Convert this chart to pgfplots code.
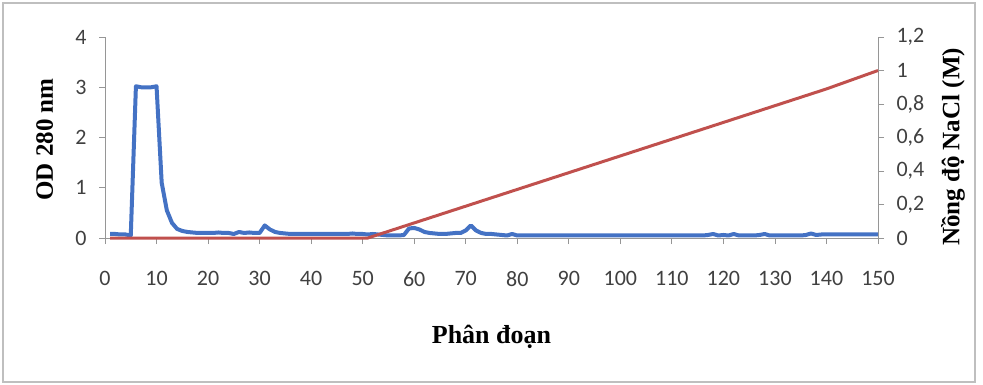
\documentclass[border=0pt]{standalone}
\usepackage{pgfplots}
\pgfplotsset{compat=1.18}
\usepackage{fontspec}
\setmainfont{Carlito}
\newfontfamily\tnr{Liberation Serif}
\definecolor{exblue}{RGB}{68,114,196}
\definecolor{exred}{RGB}{192,80,77}
\definecolor{axgray}{RGB}{150,150,150}
\begin{document}
\begin{tikzpicture}
\useasboundingbox (0,0) rectangle (983pt,384pt);
\draw[color=black!25, line width=1.2pt] (3pt,2pt) rectangle (975pt,381pt);
\pgfplotsset{
  common/.style={
    at={(105pt,146pt)}, anchor=south west,
    scale only axis, width=773pt, height=201pt,
    xmin=0, xmax=150,
    tick align=outside,
    major tick length=6pt,
    every tick/.style={axgray, line width=0.8pt},
    axis line style={axgray, line width=0.8pt},
    tick label style={font=\fontsize{22}{22}\selectfont, black!75},
    /pgf/number format/assume math mode=true,
    clip=false,
  }
}
\begin{axis}[common,
  ymin=0, ymax=4,
  ytick={0,1,2,3,4},
  xtick={0,10,...,150},
  axis y line*=left, axis x line*=bottom,
  yticklabel style={xshift=-9pt},
  xticklabel style={yshift=-24pt},
  xlabel={\fontsize{26}{26}\tnr\bfseries Phân đoạn},
  xlabel style={at={(axis description cs:0.5,-0.49)}, anchor=center},
  ylabel={\fontsize{25}{25}\tnr\bfseries OD 280 nm},
  ylabel style={at={(axis description cs:-0.078,0.49)}, anchor=center, rotate=0},
]
\addplot[exblue, line width=4pt, line join=round] coordinates {
(1,0.08)(2,0.08)(3,0.07)(4,0.07)(5,0.05)(6,3.02)(7,3.0)(8,3.0)(9,3.0)(10,3.02)
(11,1.1)(12,0.55)(13,0.3)(14,0.18)(15,0.14)(16,0.12)(17,0.11)(18,0.1)(19,0.1)(20,0.1)
(21,0.1)(22,0.11)(23,0.1)(24,0.1)(25,0.08)(26,0.12)(27,0.1)(28,0.11)(29,0.1)(30,0.1)
(31,0.25)(32,0.17)(33,0.12)(34,0.1)(35,0.09)(36,0.08)(37,0.08)(38,0.08)(39,0.08)(40,0.08)
(41,0.08)(42,0.08)(43,0.08)(44,0.08)(45,0.08)(46,0.08)(47,0.08)(48,0.09)(49,0.08)(50,0.08)
(51,0.07)(52,0.08)(53,0.07)(54,0.06)(55,0.05)(56,0.05)(57,0.05)(58,0.06)(59,0.19)(60,0.2)
(61,0.17)(62,0.12)(63,0.1)(64,0.09)(65,0.08)(66,0.08)(67,0.09)(68,0.1)(69,0.1)(70,0.15)
(71,0.25)(72,0.15)(73,0.1)(74,0.08)(75,0.08)(76,0.07)(77,0.06)(78,0.05)(79,0.08)(80,0.05)
(81,0.05)(82,0.05)(83,0.05)(84,0.05)(85,0.05)(86,0.05)(87,0.05)(88,0.05)(89,0.05)(90,0.05)
(91,0.05)(92,0.05)(93,0.05)(94,0.05)(95,0.05)(96,0.05)(97,0.05)(98,0.05)(99,0.05)(100,0.05)
(101,0.05)(102,0.05)(103,0.05)(104,0.05)(105,0.05)(106,0.05)(107,0.05)(108,0.05)(109,0.05)(110,0.05)
(111,0.05)(112,0.05)(113,0.05)(114,0.05)(115,0.05)(116,0.05)(117,0.06)(118,0.08)(119,0.05)(120,0.06)
(121,0.05)(122,0.08)(123,0.05)(124,0.05)(125,0.05)(126,0.05)(127,0.06)(128,0.08)(129,0.05)(130,0.05)
(131,0.05)(132,0.05)(133,0.05)(134,0.05)(135,0.05)(136,0.06)(137,0.09)(138,0.06)(139,0.07)(140,0.07)
(141,0.07)(142,0.07)(143,0.07)(144,0.07)(145,0.07)(146,0.07)(147,0.07)(148,0.07)(149,0.07)(150,0.07)
};
\end{axis}
\begin{axis}[common,
  ymin=0, ymax=1.2,
  ytick={0,0.2,0.4,0.6,0.8,1,1.2},
  axis y line*=right, axis x line=none,
  yticklabel style={/pgf/number format/use comma, /pgf/number format/fixed, xshift=9pt},
  ylabel={\fontsize{25}{25}\tnr\bfseries Nồng độ NaCl (M)},
  ylabel style={at={(axis description cs:1.097,0.453)}, anchor=center, rotate=0},
]
\addplot[exred, line width=3pt] coordinates {
(1,0)(51,0)(60,0.09)(70,0.19)(80,0.29)(90,0.39)(100,0.49)(110,0.59)(120,0.69)(130,0.79)(140,0.89)(150,1.0)
};
\end{axis}
\end{tikzpicture}
\end{document}
